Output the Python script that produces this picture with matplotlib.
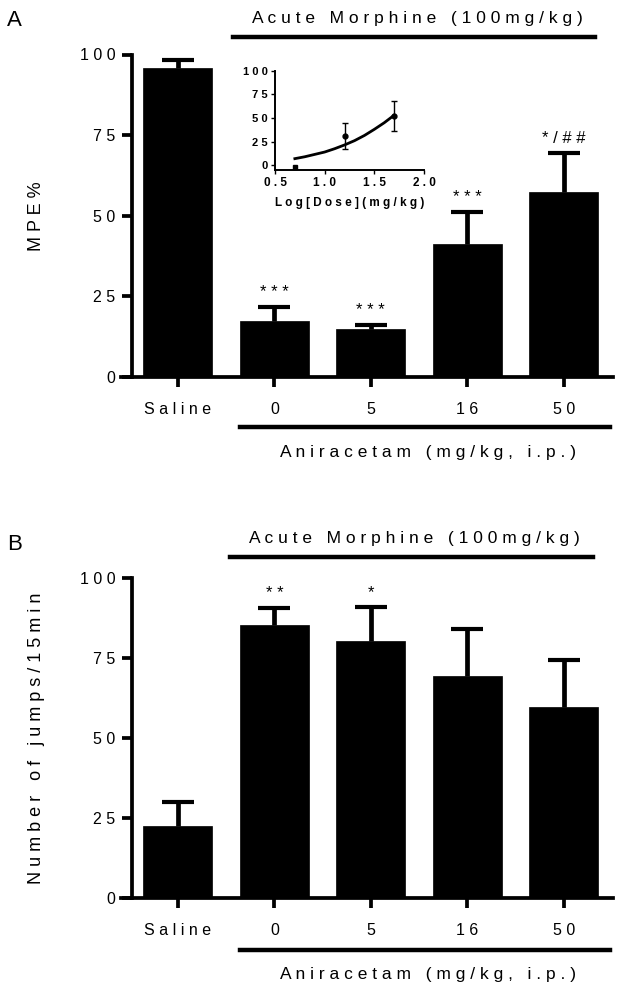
import numpy as np
import matplotlib
matplotlib.use("Agg")
import matplotlib.pyplot as plt
from matplotlib.lines import Line2D

plt.rcParams['font.family'] = ['Liberation Sans', 'DejaVu Sans']

groups = ["Saline", "0", "5", "16", "50"]

# panel A: MPE%
mpe_mean = [95.8, 17.4, 14.9, 41.2, 57.5]
mpe_err = [2.5, 4.3, 1.2, 10.0, 12.0]
mpe_sig = ["", "***", "***", "***", "*/##"]

# panel B: jumps per 15 min
jump_mean = [22.5, 85.4, 80.4, 69.5, 59.6]
jump_err = [7.5, 5.2, 10.5, 14.5, 14.7]
jump_sig = ["", "**", "*", "", ""]

# inset: log dose-response
dose_log = [0.699, 1.204, 1.699]
dose_resp = [-2.0, 31.0, 52.0]
dose_err = [0.0, 13.5, 16.0]
curve_x = [0.70, 0.80, 0.90, 1.00, 1.10, 1.20, 1.30, 1.40, 1.50, 1.60, 1.70]
curve_y = [7.0, 9.0, 11.5, 14.0, 17.5, 21.5, 26.0, 31.5, 38.0, 45.0, 53.0]

W, H = 625, 989


def spaced(s):
    return " ".join(s)


def fx(px):
    return px / W


def fy(py):
    return 1 - py / H


def bar_panel(ax, means, errs, sigs, ylabel):
    x = np.arange(len(groups))
    ax.bar(x, means, width=0.715, color="black", edgecolor="black", linewidth=0.5)
    eb = ax.errorbar(x, means, yerr=[np.zeros(len(errs)), errs], fmt="none",
                     ecolor="black", elinewidth=3.4, capsize=11.5, capthick=3.0)
    eb[1][0].set_visible(False)  # no lower cap
    for xi, m, e, s in zip(x, means, errs, sigs):
        if s:
            ax.text(xi, m + e + 2.2, spaced(s), ha="center", va="bottom", fontsize=12)
    ax.set_xlim(-0.59, 4.51)
    ax.set_ylim(0, 100)
    for side in ["top", "right"]:
        ax.spines[side].set_visible(False)
    ax.spines["left"].set_position(("data", -0.477))
    ax.spines["left"].set_bounds(0, 100)
    ax.spines["left"].set_linewidth(2.7)
    ax.spines["bottom"].set_linewidth(2.7)
    ax.set_yticks([0, 25, 50, 75, 100])
    ax.set_yticklabels([spaced(str(v)) for v in [0, 25, 50, 75, 100]], fontsize=11.5)
    ax.set_xticks(x)
    ax.set_xticklabels([spaced(g) for g in groups], fontsize=11.5)
    ax.tick_params(axis="y", length=7, width=2.7, pad=5)
    ax.tick_params(axis="x", length=7, width=2.7, pad=11)
    ax.set_ylabel(spaced(ylabel), fontsize=13)
    ax.yaxis.set_label_coords(-(121 - 45) / 492, 0.5)


fig = plt.figure(figsize=(W / 100, H / 100), dpi=100)

axA = fig.add_axes([fx(121), fy(377), fx(613) - fx(121), (377 - 54.5) / H])
bar_panel(axA, mpe_mean, mpe_err, mpe_sig, "MPE%")

axB = fig.add_axes([fx(121), fy(898), fx(613) - fx(121), (898 - 578) / H])
bar_panel(axB, jump_mean, jump_err, jump_sig, "Number of jumps/15min")


# brackets and group labels
def bracket(x0, x1, y, label, ty):
    fig.add_artist(Line2D([fx(x0), fx(x1)], [fy(y), fy(y)], color="black", linewidth=3.2))
    fig.text(fx((x0 + x1) / 2 + 3), fy(ty), spaced(label), ha="center", va="center", fontsize=12.5)

bracket(233, 595, 37, "Acute Morphine (100mg/kg)", 18)
bracket(240, 610, 427, "Aniracetam (mg/kg, i.p.)", 452)
bracket(230, 593, 557, "Acute Morphine (100mg/kg)", 539)
bracket(240, 610, 950, "Aniracetam (mg/kg, i.p.)", 975)

fig.text(fx(7), fy(20), "A", fontsize=16, va="center", ha="left")
fig.text(fx(7), fy(545), "B", fontsize=16, va="center", ha="left")

# inset
axI = fig.add_axes([fx(275), fy(170), fx(424) - fx(275), (170 - 70.7) / H])
axI.plot(curve_x, curve_y, color="black", linewidth=2.0)
axI.errorbar(dose_log[1:], dose_resp[1:], yerr=dose_err[1:], fmt="o", color="black",
             markersize=3.5, elinewidth=1.0, capsize=2.5, capthick=1.0)
axI.plot(dose_log[:1], dose_resp[:1], "s", color="black", markersize=3.5)
axI.set_xlim(0.5, 2.0)
axI.set_ylim(-5, 100)
for side in ["top", "right"]:
    axI.spines[side].set_visible(False)
axI.spines["left"].set_bounds(-5, 100)
axI.spines["left"].set_linewidth(1.4)
axI.spines["bottom"].set_linewidth(1.4)
axI.set_xticks([0.5, 1.0, 1.5, 2.0])
axI.set_xticklabels([spaced(t) for t in ["0.5", "1.0", "1.5", "2.0"]], fontsize=8.5, fontweight="bold")
axI.set_yticks([0, 25, 50, 75, 100])
axI.set_yticklabels([spaced(str(v)) for v in [0, 25, 50, 75, 100]], fontsize=8, fontweight="bold")
axI.tick_params(length=3, width=1.0, pad=2)
axI.set_xlabel(spaced("Log[Dose](mg/kg)"), fontsize=8.5, fontweight="bold", labelpad=6)

fig.savefig("out.png", dpi=100)
